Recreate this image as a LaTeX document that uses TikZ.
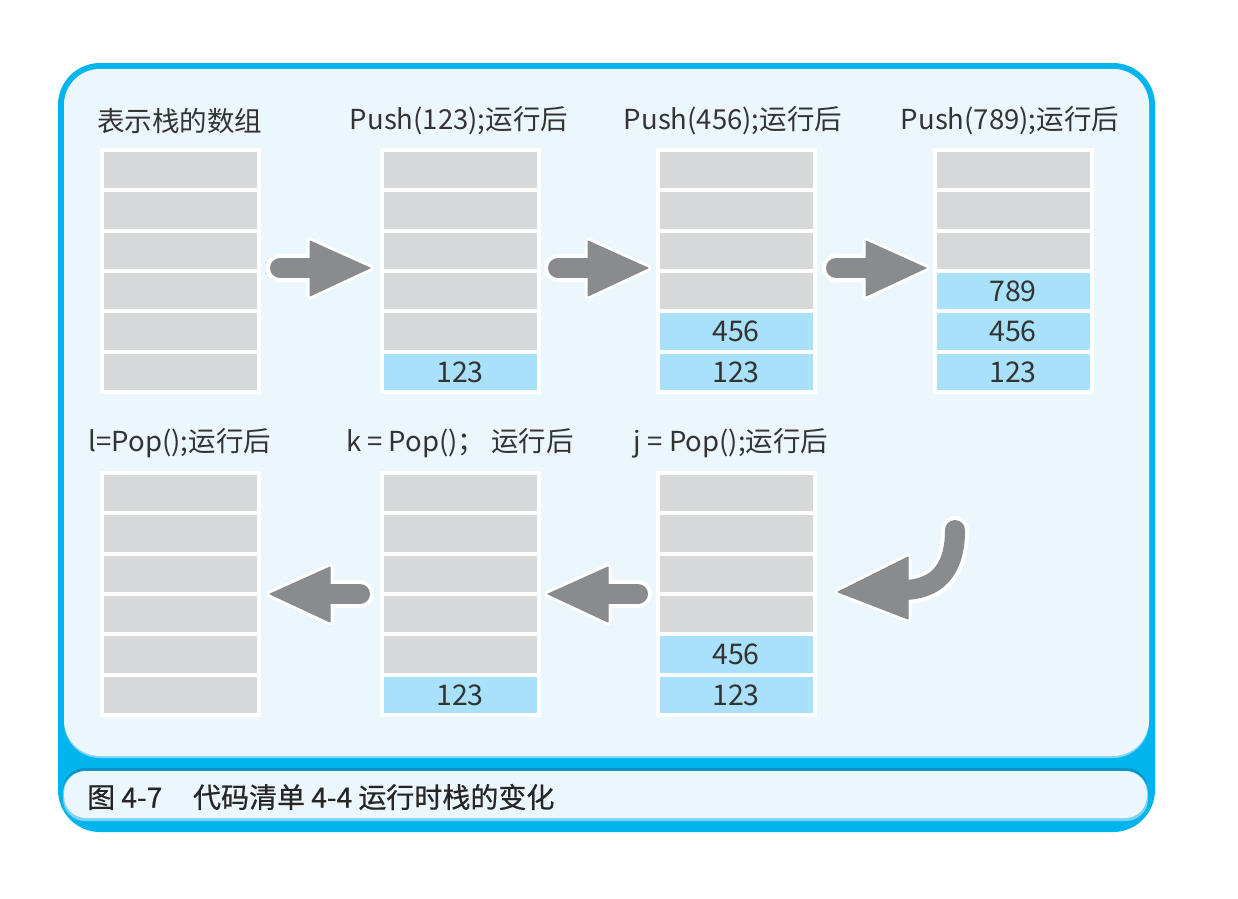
\documentclass[tikz,border=0pt]{standalone}
\usepackage{fontspec}
\setmainfont{Noto Sans CJK SC}
\newfontfamily\capfont[FakeBold=0.6]{Noto Sans CJK SC}
\begin{document}
\begin{tikzpicture}[x=1pt,y=-1pt,
  cell/.style={draw=white,line width=4pt,minimum width=157pt,minimum height=40.4pt,inner sep=0pt,font=\fontsize{28.5}{28.5}\selectfont,text=black!80},
  gcell/.style={cell,fill=gcol},
  bcell/.style={cell,fill=bcol},
  lbl/.style={font=\fontsize{27.5}{27.5}\selectfont,text=black!80,inner sep=0pt},
  arrw/.style={white,line width=7pt,line join=round,fill=white},
  arrg/.style={acol,line width=1pt,line join=round,fill=acol}
]
\definecolor{gcol}{HTML}{D7D8DA}
\definecolor{bcol}{HTML}{A8E1F9}
\definecolor{pcol}{HTML}{EBF6FD}
\definecolor{fcol}{HTML}{00B5EE}
\definecolor{acol}{HTML}{8A8B8F}
\definecolor{dcol}{HTML}{0895C4}
\definecolor{lcol}{HTML}{7FD4F5}
\useasboundingbox (0,0) rectangle (1238,898);
\fill[white] (0,0) rectangle (1238,898);
% frame
\fill[fcol,rounded corners=42pt] (58,63) rectangle (1155,832);
\fill[lcol,rounded corners=36pt] (64,69) rectangle (1149,758);
\fill[pcol,rounded corners=36pt] (64,69) rectangle (1149,756);
\fill[dcol,rounded corners=22pt] (63,768) rectangle (1148,820);
\fill[lcol,rounded corners=22pt] (63,771) rectangle (1148,821);
\fill[pcol,rounded corners=22pt] (64,771) rectangle (1147,818);
\node[anchor=west,inner sep=0pt,font=\fontsize{28}{28}\capfont,text=black!85] (cap) at (87,797) {图 4-7\hspace{1.1em}代码清单 4-4 运行时栈的变化};
% labels
\node[lbl,anchor=west] (l1) at (97,121) {表示栈的数组};
\node[lbl] (l2) at (459,121) {Push(123);运行后};
\node[lbl] (l3) at (733,121) {Push(456);运行后};
\node[lbl] (l4) at (1010,121) {Push(789);运行后};
\node[lbl] (l5) at (180,443) {l=Pop();运行后};
\node[lbl] (l6) at (460,443) {k = Pop()； 运行后};
\node[lbl] (l7) at (731,443) {j = Pop();运行后};
% top row stacks
\foreach \x/\n in {180/a,460/b,736/c,1013/d}{
  \foreach \i/\y in {1/170,2/210.4,3/250.8,4/291.2,5/331.6,6/372}{
    \node[gcell] (\n\i) at (\x,\y) {};
  }
}
\node[bcell] at (b6) {123};
\node[bcell] at (c6) {123};
\node[bcell] at (c5) {456};
\node[bcell] at (d6) {123};
\node[bcell] at (d5) {456};
\node[bcell] at (d4) {789};
% bottom row stacks
\foreach \x/\n in {180/e,460/f,736/g}{
  \foreach \i/\y in {1/493,2/533.4,3/573.8,4/614.2,5/654.6,6/695}{
    \node[gcell] (\n\i) at (\x,\y) {};
  }
}
\node[bcell] at (f6) {123};
\node[bcell] at (g6) {123};
\node[bcell] at (g5) {456};
% straight right arrows
\foreach \s in {270,548,826}{
  \begin{scope}[xshift=\s pt]
  \draw[arrw] (40,241) -- (100,268) -- (40,296) -- cycle;
  \draw[white,line width=28pt,line cap=round] (10,268) -- (42,268);
  \draw[acol,line width=20pt,line cap=round] (10,268) -- (44,268);
  \draw[arrg] (40,241) -- (100,268) -- (40,296) -- cycle;
  \end{scope}
}
% straight left arrows (bottom)
\foreach \s in {270,548}{
  \begin{scope}[xshift=\s pt]
  \draw[arrw] (60,567) -- (0,594) -- (60,622) -- cycle;
  \draw[white,line width=28pt,line cap=round] (90,594) -- (58,594);
  \draw[acol,line width=20pt,line cap=round] (90,594) -- (56,594);
  \draw[arrg] (60,567) -- (0,594) -- (60,622) -- cycle;
  \end{scope}
}
% curved arrow
\draw[arrw] (908,557) -- (838,592) -- (908,619) -- cycle;
\draw[white,line width=28pt,line cap=round] (955,530) .. controls (955,572) and (935,590) .. (904,590);
\draw[acol,line width=20pt,line cap=round] (955,530) .. controls (955,572) and (935,590) .. (902,590);
\draw[arrg] (908,557) -- (838,592) -- (908,619) -- cycle;
\end{tikzpicture}
\end{document}
